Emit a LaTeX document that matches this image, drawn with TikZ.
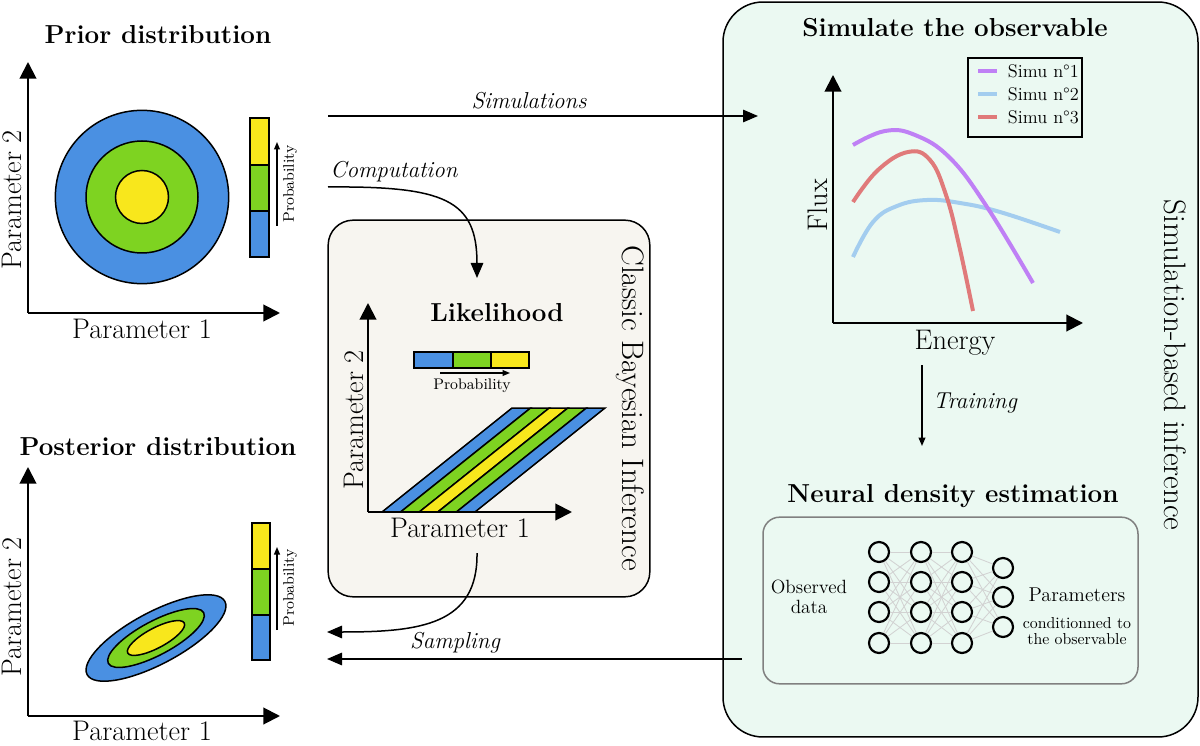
\documentclass[tikz,border=0pt]{standalone}
\usetikzlibrary{arrows.meta, positioning}
\definecolor{pblue}{HTML}{4A90E2}
\definecolor{pgreen}{HTML}{7ED321}
\definecolor{pyellow}{HTML}{F8E71C}
\definecolor{likfill}{HTML}{F7F5F0}
\definecolor{sbifill}{HTML}{EBF9F2}
\definecolor{simone}{HTML}{BF80F5}
\definecolor{simtwo}{HTML}{A3CDEF}
\definecolor{simthree}{HTML}{E07A7A}

\begin{document}
\begin{tikzpicture}[
        x=0.6pt, y=-0.6pt,
        axis/.style={line width=1.2pt, -{Triangle[length=10pt, width=10pt]}},
        flow/.style={line width=0.9pt, -{Triangle[length=9pt, width=7.5pt]}},
        probarrow/.style={line width=0.8pt, -{Triangle[length=4.5pt, width=3.5pt]}},
        band/.style={draw=black, line width=0.9pt},
        panel/.style={draw=black, line width=0.9pt, rounded corners=15pt},
        title/.style={font=\bfseries\fontsize{15.6}{18}\selectfont},
        axlabel/.style={font=\fontsize{17}{20}\selectfont},
        problabel/.style={font=\fontsize{9.2}{11}\selectfont},
        flowlabel/.style={font=\itshape\fontsize{13.8}{16}\selectfont},
        sidelabel/.style={font=\fontsize{18.6}{22}\selectfont, rotate=-90},
        legendtext/.style={font=\fontsize{11}{13}\selectfont, anchor=west},
        curve/.style={line width=2.4pt},
        neuron/.style={circle, draw=black, line width=1.3pt, fill=sbifill, minimum size=12pt, inner sep=0pt},
        synapse/.style={draw=gray!35, line width=0.5pt}
    ]
        \useasboundingbox (0,0) rectangle (1200,746);

        % Panels
        \node (sbibox) [panel, fill=sbifill, rounded corners=24pt, minimum width=285pt, minimum height=441pt] at (960.5,369.5) {};
        \node (likbox) [panel, fill=likfill, minimum width=193pt, minimum height=226pt] at (489,408.5) {};
        \node (nnbox) [panel, draw=gray, rounded corners=10pt, minimum width=225pt, minimum height=100pt] at (950.5,600.5) {};

        % Prior distribution
        \node (priortitle) [title] at (158,35) {Prior distribution};
        \coordinate (prioro) at (28,313);
        \fill [pblue, draw=black, line width=0.9pt] (142,197) circle [radius=52pt];
        \fill [pgreen, draw=black, line width=0.9pt] (142,197) circle [radius=33.6pt];
        \fill [pyellow, draw=black, line width=0.9pt] (142,197) circle [radius=15.9pt];
        \draw [axis] (prioro) -- (28,62);
        \draw [axis] (prioro) -- (280,313);
        \node (priorpx) [axlabel] at (142,329) {Parameter 1};
        \node (priorpy) [axlabel, rotate=90] at (12,200) {Parameter 2};
        \draw [band, fill=pblue] (250,211) rectangle (269,257);
        \draw [band, fill=pgreen] (250,165) rectangle (269,211);
        \draw [band, fill=pyellow] (250,118) rectangle (269,165);
        \draw [probarrow] (277,226) -- (277,142);
        \node (priorprob) [problabel, rotate=90] at (290,184) {Probability};

        % Posterior distribution
        \node (posttitle) [title] at (158,447) {Posterior distribution};
        \coordinate (posto) at (28,716);
        \coordinate (postc) at (156,638);
        \fill [pblue, draw=black, line width=0.9pt, rotate around={28:(postc)}] (postc) ellipse [x radius=46.8pt, y radius=15.6pt];
        \fill [pgreen, draw=black, line width=0.9pt, rotate around={28:(postc)}] (postc) ellipse [x radius=32.4pt, y radius=10.2pt];
        \fill [pyellow, draw=black, line width=0.9pt, rotate around={28:(postc)}] (postc) ellipse [x radius=19.2pt, y radius=6pt];
        \draw [axis] (posto) -- (28,467);
        \draw [axis] (posto) -- (280,716);
        \node (postpx) [axlabel] at (142,731) {Parameter 1};
        \node (postpy) [axlabel, rotate=90] at (12,607) {Parameter 2};
        \draw [band, fill=pblue] (252,615) rectangle (270,660);
        \draw [band, fill=pgreen] (252,569) rectangle (270,615);
        \draw [band, fill=pyellow] (252,523) rectangle (270,569);
        \draw [probarrow] (277,630) -- (277,547);
        \node (postprob) [problabel, rotate=90] at (290,588) {Probability};

        % Likelihood
        \node (liktitle) [title] at (497,313) {Likelihood};
        \draw [band, fill=pblue] (414,352) rectangle (453,368);
        \draw [band, fill=pgreen] (453,352) rectangle (491,368);
        \draw [band, fill=pyellow] (491,352) rectangle (529,368);
        \draw [probarrow] (440,373) -- (510,373);
        \node (likprob) [problabel] at (472,386) {Probability};
        \foreach \c [count=\i from 0] in {pblue,pgreen,pyellow,pgreen,pblue}
            \draw [band, fill=\c] ({382+18.6*\i},512) -- ({400.6+18.6*\i},512) -- ({530.6+18.6*\i},408) -- ({512+18.6*\i},408) -- cycle;
        \coordinate (liko) at (368,512);
        \draw [axis] (liko) -- (368,303);
        \draw [axis] (liko) -- (572,512);
        \node (likpx) [axlabel] at (460,528) {Parameter 1};
        \node (likpy) [axlabel, rotate=90] at (354,420) {Parameter 2};
        \node (classic) [sidelabel] at (630,408) {Classic Bayesian Inference};

        % Simulate the observable
        \node (simtitle) [title] at (955,28) {Simulate the observable};
        \coordinate (fluxo) at (833,323);
        \draw [curve, simtwo] plot [smooth, tension=0.7] coordinates {(853,257) (873,222) (897,206) (927,200) (960,203) (1000,212) (1060,232)};
        \draw [curve, simone] plot [smooth, tension=0.7] coordinates {(853,145) (885,131) (915,135) (950,158) (987,207) (1033,283)};
        \draw [curve, simthree] plot [smooth, tension=0.7] coordinates {(853,202) (878,170) (908,152) (930,160) (946,195) (959,245) (973,311)};
        \draw [axis] (fluxo) -- (833,75);
        \draw [axis] (fluxo) -- (1083,323);
        \node (flux) [axlabel, rotate=90] at (818,205) {Flux};
        \node (energy) [axlabel] at (955,343) {Energy};
        \node (legend) [draw=black, line width=0.9pt, minimum width=68.4pt, minimum height=47.4pt] at (1025,97.5) {};
        \draw [curve, simone] (978,71) -- (997,71);
        \draw [curve, simtwo] (978,94) -- (997,94);
        \draw [curve, simthree] (978,117) -- (997,117);
        \node (simuone) [legendtext] at (1002,71) {Simu n°1};
        \node (simutwo) [legendtext] at (1002,94) {Simu n°2};
        \node (simuthree) [legendtext] at (1002,117) {Simu n°3};
        \node (sbi) [sidelabel] at (1175,365) {Simulation-based inference};

        % Neural density estimation
        \node (nntitle) [title] at (953,496) {Neural density estimation};
        \foreach \l/\x in {1/879, 2/921, 3/962}
            \foreach \r/\y in {1/552, 2/582, 3/612, 4/643}
                \node (n-\l-\r) [neuron] at (\x,\y) {};
        \foreach \r/\y in {1/568, 2/597, 3/627}
            \node (n-4-\r) [neuron] at (1003,\y) {};
        \foreach \l [evaluate=\l as \m using int(\l+1)] in {1,2}
            \foreach \r in {1,...,4}
                \foreach \s in {1,...,4}
                    \draw [synapse] (n-\l-\r) -- (n-\m-\s);
        \foreach \r in {1,...,4}
            \foreach \s in {1,...,3}
                \draw [synapse] (n-3-\r) -- (n-4-\s);
        \node (observed) [align=center, font=\fontsize{11.5}{12}\selectfont] at (809,597) {Observed\\data};
        \node (params) [font=\fontsize{12}{14}\selectfont] at (1077,595) {Parameters};
        \node (cond) [align=center, font=\fontsize{9.5}{10}\selectfont] at (1077,631) {conditionned to\\the observable};

        % Arrows between panels
        \coordinate (simfrom) at (328,116);
        \coordinate (simto) at (758,116);
        \coordinate (compfrom) at (328,187);
        \coordinate (compto) at (477,278);
        \coordinate (likout) at (477,553);
        \coordinate (postin) at (327,632);
        \coordinate (sampfrom) at (742,659);
        \coordinate (sampto) at (327,659);
        \coordinate (trainfrom) at (922,365);
        \coordinate (trainto) at (922,446);

        \draw [flow] (simfrom) -- (simto);
        \node (simlabel) [flowlabel] at (529,101) {Simulations};
        \draw [flow] (compfrom) .. controls (445,186) and (477,200) .. (compto);
        \node (complabel) [flowlabel] at (394,172) {Computation};
        \draw [flow] (likout) .. controls (478,625) and (420,632) .. (postin);
        \draw [flow] (sampfrom) -- (sampto);
        \node (samplabel) [flowlabel] at (455,643) {Sampling};
        \draw [line width=0.9pt, -{Triangle[length=5pt, width=4pt]}] (trainfrom) -- (trainto);
        \node (trainlabel) [flowlabel] at (975,403) {Training};

    \end{tikzpicture}
\end{document}
